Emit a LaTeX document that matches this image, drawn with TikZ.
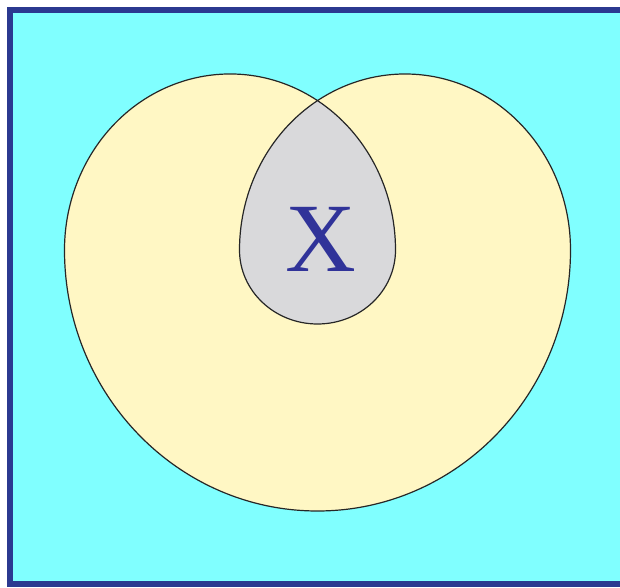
\documentclass[tikz,border=0pt]{standalone}
\usepackage{fontspec}
\setmainfont{Liberation Serif}
\definecolor{bgcyan}{HTML}{80FFFF}
\definecolor{framblue}{HTML}{2B3990}
\definecolor{lobeyellow}{HTML}{FFF7C4}
\definecolor{lensgray}{HTML}{D9D9DB}
\definecolor{xblue}{HTML}{303399}
\tikzset{
  region/.style={draw=black!85, line width=1.2pt, line join=round},
}
\begin{document}
\begin{tikzpicture}[x=1pt,y=-1pt]
\useasboundingbox (0,0) rectangle (620,587);
% background and frame
\fill[bgcyan] (10,10) rectangle (640,584);
\draw[framblue, line width=5.5pt] (640,10) -- (10,10) -- (10,584) -- (640,584);
% outer heart-like shape
\coordinate (notch) at (317.5,100.6);
\path[region, fill=lobeyellow] (notch)
  arc[start angle=-58.08, end angle=-180, x radius=165.5, y radius=176]
  arc[start angle=180, end angle=0, x radius=253, y radius=261]
  arc[start angle=0, end angle=-121.92, x radius=165.5, y radius=176]
  -- cycle;
% inner lens
\path[region, fill=lensgray] (notch)
  arc[start angle=-121.92, end angle=-180, x radius=165.5, y radius=176]
  arc[start angle=180, end angle=0, x radius=78, y radius=74]
  arc[start angle=0, end angle=-58.08, x radius=165.5, y radius=176]
  -- cycle;
\node[inner sep=0pt, text=xblue, font=\fontsize{98}{98}\selectfont] (x) at (321,239) {X};
\end{tikzpicture}
\end{document}
